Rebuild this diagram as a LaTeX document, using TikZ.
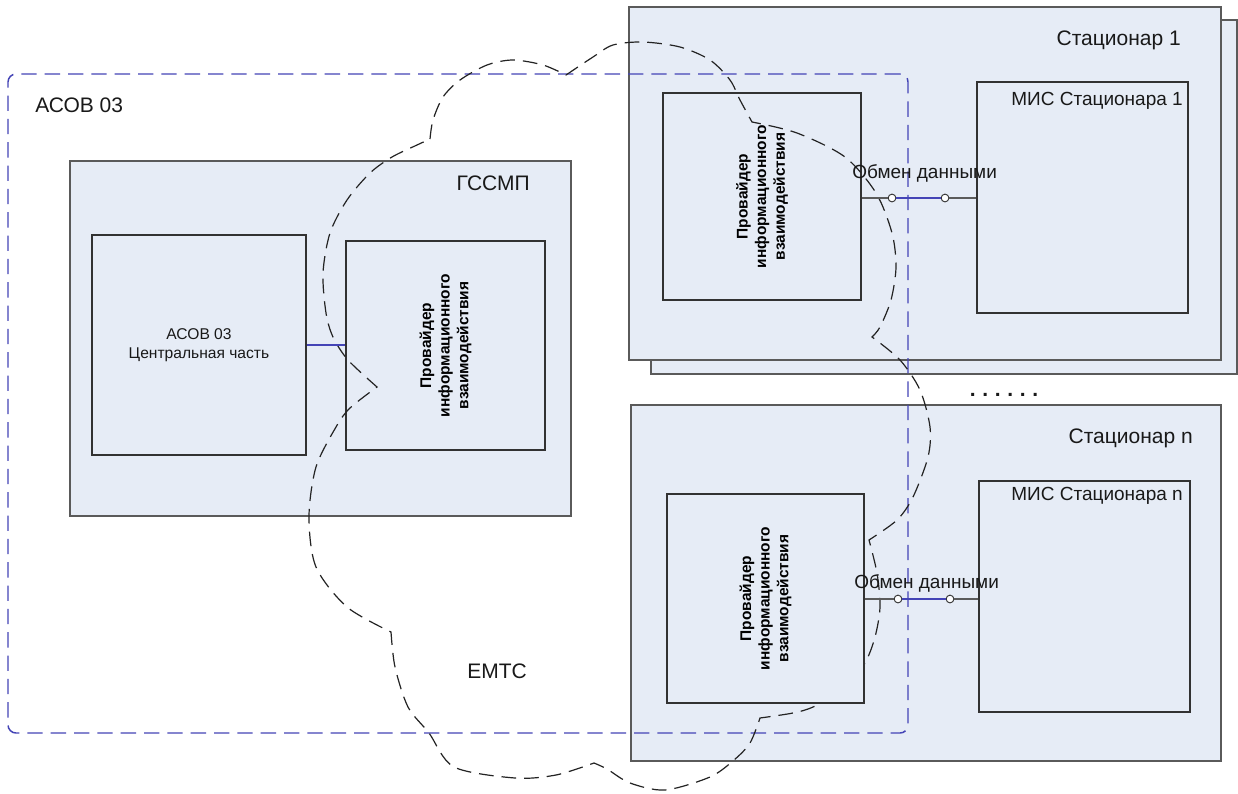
\documentclass[tikz,border=0pt]{standalone}
\usepackage{fontspec}
\setmainfont{Liberation Sans}
\usetikzlibrary{fit}
\definecolor{boxfill}{RGB}{230,236,246}
\definecolor{outerline}{RGB}{90,90,90}
\definecolor{innerline}{RGB}{50,50,50}
\definecolor{blueline}{RGB}{68,68,182}
\definecolor{cloudcol}{RGB}{35,35,35}
\newcommand\myfontL{\fontsize{15.75pt}{18pt}\selectfont}
\newcommand\myfontM{\fontsize{14.25pt}{16pt}\selectfont}
\newcommand\myfontS{\fontsize{11.7pt}{14.2pt}\selectfont}
\newcommand\myfontP{\fontsize{11.6pt}{13.9pt}\selectfont\bfseries}
\begin{document}
\begin{tikzpicture}[x=0.75pt,y=-0.75pt,
  outerbox/.style={rectangle,draw=outerline,fill=boxfill,line width=1.2pt,inner sep=0pt},
  innerbox/.style={rectangle,draw=innerline,fill=boxfill,line width=0.85pt,inner sep=0pt},
  areaframe/.style={rectangle,draw=blueline,line width=1.1pt,dash pattern=on 11.5pt off 6pt,rounded corners=6pt,inner sep=0pt},
  cloudpath/.style={draw=cloudcol,line width=0.9pt,dash pattern=on 11pt off 6pt},
  provtext/.style={rotate=90,align=center,font=\myfontP,inner sep=0pt},
  port/.style={circle,draw=innerline,fill=white,line width=0.7pt,minimum size=5.8pt,inner sep=0pt},
  grayconn/.style={draw=innerline!80,line width=1pt},
  blueconn/.style={draw=blueline,line width=1pt},
  lbl/.style={inner sep=0pt,text=black!90}]
\useasboundingbox (0,0) rectangle (1238,793);
\fill[white] (0,0) rectangle (1238,793);

% corner coordinates
\coordinate (s1b1) at (651,20);   \coordinate (s1b2) at (1237,374);
\coordinate (s1f1) at (629,7);    \coordinate (s1f2) at (1221,360);
\coordinate (snf1) at (631,405);  \coordinate (snf2) at (1221,761);
\coordinate (g1) at (70,161);     \coordinate (g2) at (571,516);
\coordinate (c1) at (92,235);     \coordinate (c2) at (306,455);
\coordinate (pg1) at (346,241);   \coordinate (pg2) at (545,450);
\coordinate (p11) at (663,93);    \coordinate (p12) at (861,300);
\coordinate (m11) at (977,82);    \coordinate (m12) at (1188,313);
\coordinate (pn1) at (667,494);   \coordinate (pn2) at (864,703);
\coordinate (mn1) at (979,481);   \coordinate (mn2) at (1190,712);
\coordinate (a1) at (8,74);       \coordinate (a2) at (908,733);

% outer boxes
\node[outerbox,fit=(s1b1)(s1b2)] (stat1back) {};
\node[outerbox,fit=(s1f1)(s1f2)] (stat1) {};
\node[outerbox,fit=(snf1)(snf2)] (statn) {};
\node[outerbox,fit=(g1)(g2)] (gssmp) {};

% inner boxes
\node[innerbox,fit=(c1)(c2)] (central) {};
\node[innerbox,fit=(pg1)(pg2)] (provg) {};
\node[innerbox,fit=(p11)(p12)] (prov1) {};
\node[innerbox,fit=(m11)(m12)] (mis1) {};
\node[innerbox,fit=(mn1)(mn2)] (misn) {};

% texts of outer boxes
\node[lbl,font=\myfontL,anchor=base east] (tg) at (530,190) {ГССМП};
\node[lbl,font=\myfontL,anchor=base east] (ts1) at (1181,45) {Стационар 1};
\node[lbl,font=\myfontL,anchor=base east] (tsn) at (1193,443) {Стационар n};
\node[lbl,font=\myfontM,anchor=base east] (tm1) at (1183,105) {МИС Стационара 1};
\node[lbl,font=\myfontM,anchor=base east] (tmn) at (1183,500) {МИС Стационара n};
\node[lbl,font=\myfontS,align=center] (tc) at (central.center) {АСОВ 03\\Центральная часть};
\node[provtext] (tpg) at (provg.center) {Провайдер\\информационного\\взаимодействия};
\node[provtext] (tp1) at (prov1.center) {Провайдер\\информационного\\взаимодействия};

% blue dashed frame
\node[areaframe,fit=(a1)(a2)] (asob) {};
\node[lbl,font=\myfontL,anchor=base west] (tasob) at (35,112) {АСОВ 03};

% cloud
\draw[cloudpath]
  plot[smooth] coordinates {(430,139) (433,120) (443,97) (460,80) (487,65) (513,60) (543,65) (566,75)}
  -- plot[smooth] coordinates {(566,75) (593,57) (613,45) (643,42) (680,47) (710,60) (730,80) (740,100) (752,122)}
  -- plot[smooth] coordinates {(752,122) (797,133) (845,157) (876,193) (892,233) (896,267) (891,300) (880,327) (872,337)}
  -- plot[smooth] coordinates {(872,337) (900,360) (920,390) (930,427) (928,457) (913,497) (897,520) (869,540)}
  -- plot[smooth] coordinates {(869,540) (877,573) (880,607) (875,637) (865,663) (845,690) (813,707) (793,713) (760,718)}
  -- plot[smooth] coordinates {(760,718) (750,743) (734,760) (710,777) (665,790) (630,783) (607,769) (594,763)}
  -- plot[smooth] coordinates {(594,763) (556,775) (515,778) (454,767) (429,733) (408,707) (395,667) (391,632)}
  -- plot[smooth] coordinates {(391,632) (347,607) (316,567) (309,517) (316,467) (336,427) (350,408) (377,387)}
  -- plot[smooth] coordinates {(377,387) (348,360) (333,337) (326,313) (323,273) (330,233) (347,200) (370,173) (392,157) (417,145) (430,139)};

% provider n (on top of the cloud)
\node[innerbox,fit=(pn1)(pn2)] (provn) {};
\node[provtext] (tpn) at (provn.center) {Провайдер\\информационного\\взаимодействия};

% connectors
\draw[blueconn] (central.east) -- (provg.west |- central.east);

\node[port] (q1) at (892,198) {};
\node[port] (q2) at (945,198) {};
\draw[grayconn] (prov1.east |- q1) -- (q1);
\draw[blueconn] (q1) -- (q2);
\draw[grayconn] (q2) -- (mis1.west |- q2);
\node[lbl,font=\myfontM,anchor=base west] (x1) at (852,178) {Обмен данными};

\node[port] (r1) at (898,599) {};
\node[port] (r2) at (950,599) {};
\draw[grayconn] (provn.east |- r1) -- (r1);
\draw[blueconn] (r1) -- (r2);
\draw[grayconn] (r2) -- (misn.west |- r2);
\node[lbl,font=\myfontM,anchor=base west] (xn) at (854,588) {Обмен данными};

% dots and EMTS
\node[lbl,font=\myfontL\bfseries,anchor=base] (dots) at (1004,396) {.\hspace{5pt}.\hspace{5pt}.\hspace{5pt}.\hspace{5pt}.\hspace{5pt}.};
\node[lbl,font=\myfontL,anchor=base west] (emts) at (467,678) {ЕМТС};
\end{tikzpicture}
\end{document}
